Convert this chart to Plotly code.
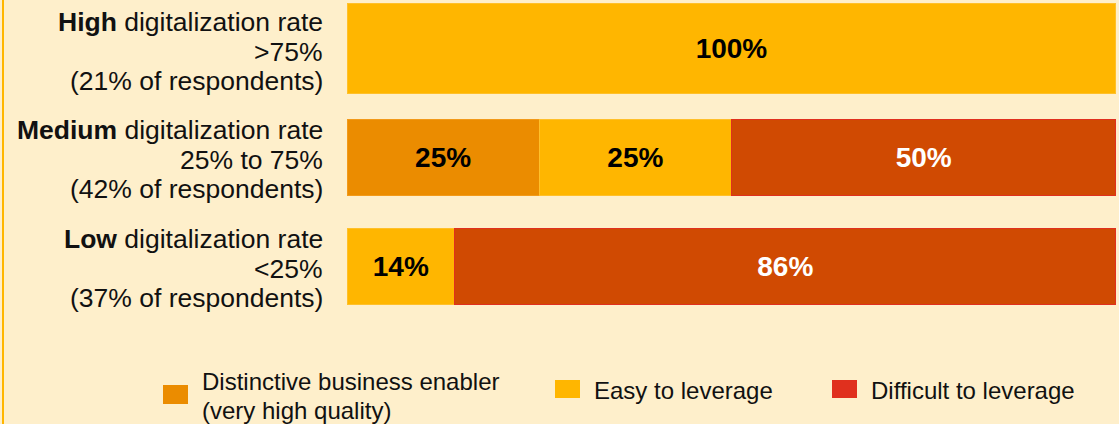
import plotly.graph_objects as go

# Survey groups (top to bottom) and their descriptions
levels = ["High", "Medium", "Low"]
thresholds = [">75%", "25% to 75%", "<25%"]
respondent_share = [21, 42, 37]

# Share of each assessment within a group, in percent (None = not present)
series_names = ["Distinctive business enabler (very high quality)",
                "Easy to leverage", "Difficult to leverage"]
distinctive = [None, 25, None]
easy = [100, 25, 14]
difficult = [None, 50, 86]

# Styling
BG = "#FEEFCB"
FONT = "Arial, Liberation Sans, Helvetica, sans-serif"
bar_colors = ["#EB8C00", "#FFB600", "#D04A02"]
bar_edges = ["#F29A1A", "#FFC02A", "#E0301E"]
legend_colors = ["#EB8C00", "#FFB600", "#E0301E"]
text_colors = ["#000000", "#000000", "#FFFFFF"]
bar_thickness = [0.83, 0.70, 0.70]

W, H = 1119, 424
M_L, M_R, M_T, M_B = 347, 3, 0, 94
PLOT_W = W - M_L - M_R
PLOT_H = H - M_T - M_B

fig = go.Figure()
for name, vals, col, edge, tcol in zip(series_names, [distinctive, easy, difficult],
                                       bar_colors, bar_edges, text_colors):
    fig.add_trace(go.Bar(
        y=levels, x=vals, orientation="h", name=name,
        width=bar_thickness,
        marker=dict(color=col, line=dict(color=edge, width=1.2)),
        texttemplate="%{x}%", textposition="inside",
        insidetextanchor="middle", textangle=0,
        textfont=dict(family=FONT, size=28, color=tcol, weight="bold"),
        showlegend=False, hoverinfo="skip",
    ))

annotations = []
# Multi-line group labels to the left of each bar
line_offsets = [27, -3, -32]
for lvl, thr, share in zip(levels, thresholds, respondent_share):
    lines = [f"<b>{lvl}</b> digitalization rate", thr, f"({share}% of respondents)"]
    for txt, dy in zip(lines, line_offsets):
        annotations.append(dict(
            xref="paper", yref="y", x=0, y=lvl, xshift=-22, yshift=dy,
            xanchor="right", yanchor="middle", text=txt, showarrow=False,
            font=dict(family=FONT, size=26.5, color="#111111"),
        ))


def px_x(px):
    return (px - M_L) / PLOT_W


def px_y(py):
    return (M_T + PLOT_H - py) / PLOT_H


# Custom legend: swatch rectangles with labels
shapes = []
legend_items = [
    (legend_colors[0], (163, 385, 188, 404),
     [("Distinctive business enabler", 200, 382), ("(very high quality)", 200, 410)]),
    (legend_colors[1], (555, 380, 580, 398), [("Easy to leverage", 592, 390)]),
    (legend_colors[2], (832, 380, 857, 398), [("Difficult to leverage", 869, 390)]),
]
for col, (x0, y0, x1, y1), labels in legend_items:
    shapes.append(dict(type="rect", xref="paper", yref="paper",
                       x0=px_x(x0), x1=px_x(x1), y0=px_y(y1), y1=px_y(y0),
                       fillcolor=col, line=dict(width=0)))
    for txt, tx, ty in labels:
        annotations.append(dict(
            xref="paper", yref="paper", x=px_x(tx), y=px_y(ty),
            xanchor="left", yanchor="middle", text=txt, showarrow=False,
            font=dict(family=FONT, size=24, color="#111111"),
        ))

# Thin accent rule along the left edge
shapes.append(dict(type="line", xref="paper", yref="paper",
                   x0=px_x(3), x1=px_x(3), y0=px_y(H), y1=px_y(0),
                   line=dict(color="#FFB600", width=2)))

fig.update_layout(
    width=W, height=H, barmode="stack",
    paper_bgcolor=BG, plot_bgcolor=BG,
    margin=dict(l=M_L, r=M_R, t=M_T, b=M_B, pad=0),
    xaxis=dict(range=[0, 100], visible=False, fixedrange=True),
    yaxis=dict(type="category", categoryorder="array", categoryarray=levels,
               range=[2.583, -0.445], visible=False, fixedrange=True),
    annotations=annotations, shapes=shapes,
    uniformtext=dict(mode=False),
)

fig.write_html("out.html", config={"displayModeBar": False})
